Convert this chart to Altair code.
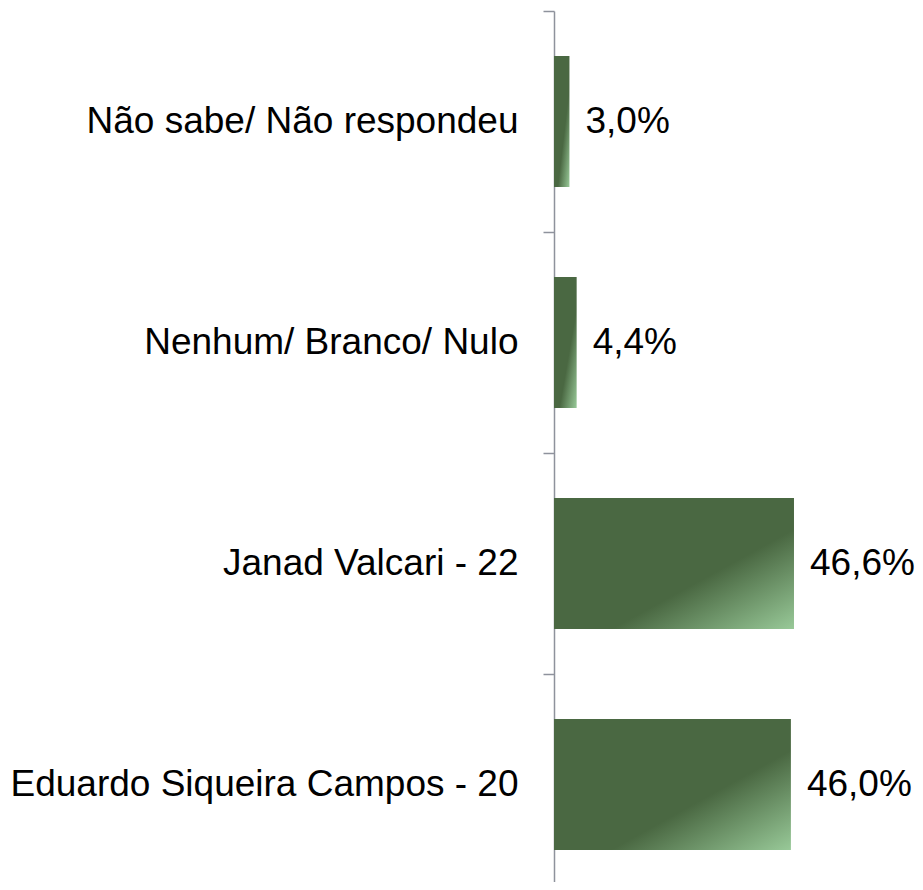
import altair as alt
import pandas as pd

categories = ["Não sabe/ Não respondeu", "Nenhum/ Branco/ Nulo", "Janad Valcari - 22", "Eduardo Siqueira Campos - 20"]
values = [3.0, 4.4, 46.6, 46.0]
labels = ["3,0%", "4,4%", "46,6%", "46,0%"]

df = pd.DataFrame({"cat": categories, "val": values, "lab": labels})

grad = alt.Gradient(
    gradient="linear",
    stops=[
        alt.GradientStop(offset=0, color="#4A6842"),
        alt.GradientStop(offset=0.62, color="#4A6842"),
        alt.GradientStop(offset=1, color="#98C998"),
    ],
    x1=0, y1=0, x2=1, y2=1,
)

y = alt.Y(
    "cat:N",
    sort=categories,
    title=None,
    scale=alt.Scale(paddingInner=0, paddingOuter=0, range=[0, 884]),
    axis=alt.Axis(
        tickBand="extent",
        tickSize=11,
        tickColor="#8E929C",
        tickWidth=1.5,
        domainColor="#8E929C",
        domainWidth=1.5,
        labelPadding=25,
        labelFont="Liberation Sans",
        labelFontSize=37,
        labelColor="#000000",
        labelLimit=1000,
    ),
)
x = alt.X("val:Q", scale=alt.Scale(domain=[0, 50]), axis=None)

bars = alt.Chart(df).mark_bar(color=grad, height=alt.RelativeBandSize(0.593)).encode(x=x, y=y)
text = alt.Chart(df).mark_text(
    align="left", baseline="middle", dx=16, font="Liberation Sans", fontSize=37, color="#000000"
).encode(x=x, y=y, text="lab:N")

chart = (bars + text).properties(
    width=257.5,
    height=871,
    autosize=alt.AutoSizeParams(type="none"),
    padding={"left": 546, "top": 3, "right": 103.5, "bottom": 0},
).configure_view(stroke=None)

chart.save("out.html", embed_options={"renderer": "svg", "actions": False})
